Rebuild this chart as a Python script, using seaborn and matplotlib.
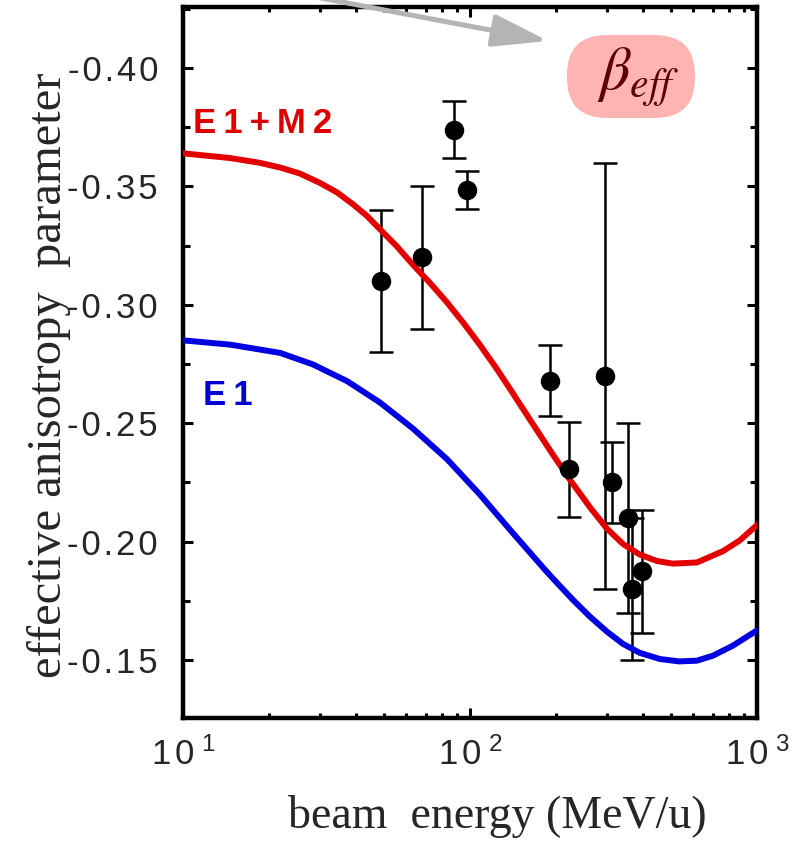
import numpy as np
import pandas as pd
import matplotlib
matplotlib.use("Agg")
import matplotlib.pyplot as plt
import seaborn as sns
from matplotlib import font_manager
from matplotlib.patches import FancyBboxPatch, FancyArrowPatch
from matplotlib.ticker import MultipleLocator, LogLocator, NullFormatter

# ---------------- data ----------------
# theory curves (beam energy in MeV/u, effective anisotropy parameter)
e1m2_energy = [10, 14.6, 18.5, 21.8, 25.5, 30.0, 34.4, 39.1, 43.8, 48.5, 55.6, 63.2,
               72.6, 83.2, 95.1, 108.4, 123.9, 141.3, 161.8, 175, 196.8, 222.8, 261.8,
               299.9, 341.2, 390.8, 448.7, 509.3, 618, 762, 871, 1000]
e1m2_beta = [-0.364, -0.362, -0.360, -0.358, -0.3555, -0.3515, -0.3475, -0.3425,
             -0.3375, -0.332, -0.3247, -0.317, -0.3092, -0.301, -0.2922, -0.283,
             -0.273, -0.2625, -0.2515, -0.2452, -0.2358, -0.2262, -0.2145, -0.2055,
             -0.199, -0.1945, -0.1918, -0.1907, -0.1912, -0.196, -0.2005, -0.207]

e1_energy = [10, 14.6, 21.8, 28.4, 37.4, 48.5, 63.2, 83.2, 108.4, 141.3, 182.8, 200.9,
             228, 261.8, 299.9, 341.2, 390.8, 459.2, 535.8, 616.6, 701.5, 822.4, 1000]
e1_beta = [-0.285, -0.2832, -0.2797, -0.2748, -0.2677, -0.2588, -0.2478, -0.2348,
           -0.2198, -0.2035, -0.188, -0.1826, -0.1755, -0.1683, -0.162, -0.1568,
           -0.153, -0.1504, -0.1494, -0.1497, -0.1518, -0.156, -0.1625]

# measurements
meas_energy = [49, 68, 88, 98, 190, 221, 295, 313, 356, 368, 396]
meas_beta = [-0.310, -0.320, -0.374, -0.3485, -0.268, -0.2305, -0.270, -0.225,
             -0.210, -0.180, -0.1875]
meas_err = [0.030, 0.030, 0.012, 0.008, 0.015, 0.020, 0.090, 0.017, 0.040, 0.030,
            0.026]

y_ticks = [-0.40, -0.35, -0.30, -0.25, -0.20, -0.15]
x_ticks = [10, 100, 1000]
x_exponents = ["1", "2", "3"]

# ---------------- style ----------------
sns.set_theme(style="ticks")
names = {f.name for f in font_manager.fontManager.ttflist}
narrow = "Liberation Sans Narrow" in names
sans_family = (["Liberation Sans Narrow", "Liberation Sans", "DejaVu Sans"] if narrow
               else ["Liberation Sans", "DejaVu Sans"])
plt.rcParams["font.family"] = sans_family
plt.rcParams["mathtext.fontset"] = "stix"

sep = " " if narrow else "\u200a"
lsep = " " if narrow else "\u2009"

RED = "#e30000"
BLUE = "#0000e0"

fig = plt.figure(figsize=(7.99, 8.42), dpi=100)
ax = fig.add_axes([183 / 799, 1 - 718 / 842, 574 / 799, 711 / 842])
ax.set_xscale("log")

df_e1m2 = pd.DataFrame({"energy": e1m2_energy, "beta": e1m2_beta})
df_e1 = pd.DataFrame({"energy": e1_energy, "beta": e1_beta})
df_meas = pd.DataFrame({"energy": meas_energy, "beta": meas_beta, "err": meas_err})

ax.errorbar(df_meas["energy"], df_meas["beta"], yerr=df_meas["err"], fmt="none",
            ecolor="black", elinewidth=1.8, capsize=8.3, capthick=1.8, zorder=2)
sns.lineplot(data=df_e1m2, x="energy", y="beta", color=RED, lw=4.3, ax=ax,
             estimator=None, sort=False, legend=False, zorder=3)
sns.lineplot(data=df_e1, x="energy", y="beta", color=BLUE, lw=4.3, ax=ax,
             estimator=None, sort=False, legend=False, zorder=3)
for ln in ax.get_lines():
    ln.set_solid_joinstyle("round")
sns.scatterplot(data=df_meas, x="energy", y="beta", color="black", edgecolor="black",
                s=13 ** 2, ax=ax, zorder=4, legend=False)

ax.set_xlim(10, 1000)
ax.set_ylim(-0.1255, -0.4258)

# spines
for s in ax.spines.values():
    s.set_linewidth(3.2)
    s.set_color("black")
    s.set_visible(True)

# y ticks
ylabels = [("-" + sep + "0" + sep + "." + sep + f"{abs(v):.2f}"[2] + sep + f"{abs(v):.2f}"[3])
           for v in y_ticks]
ax.set_yticks(y_ticks, labels=ylabels, fontsize=25)
ax.yaxis.set_minor_locator(MultipleLocator(0.025))

# x ticks
xlabels = [r"$\mathregular{1\," + "0\\;{}^{" + e + r"}}$" for e in x_exponents]
ax.set_xticks(x_ticks, labels=xlabels, fontsize=25)
ax.xaxis.set_minor_locator(LogLocator(base=10, subs=np.arange(2, 10)))
ax.xaxis.set_minor_formatter(NullFormatter())

ax.tick_params(axis="both", which="both", direction="in", top=True, right=True,
               color="black", width=2.2)
ax.tick_params(axis="y", which="major", length=7.5, pad=18)
ax.tick_params(axis="y", which="minor", length=5)
ax.tick_params(axis="x", which="major", length=7.5, pad=14)
ax.tick_params(axis="x", which="minor", length=3.5)

# axis labels
ax.set_xlabel("beam  energy (MeV/u)", fontfamily="Liberation Serif", fontsize=33,
              va="baseline", ha="center")
ax.xaxis.set_label_coords(0.548, -0.1545)
ax.set_ylabel("effective anisotropy  parameter", fontfamily="Liberation Serif",
              fontsize=35, va="center", ha="center")
ax.yaxis.set_label_coords(-0.2334, 0.482)

# curve labels
lab_family = sans_family
ax.text(0.0174, 0.8228, "E" + lsep + "1" + lsep + "+" + lsep + "M" + lsep + "2",
        transform=ax.transAxes, color="#dd0000", fontweight="bold",
        fontsize=25, ha="left", va="baseline", fontfamily=lab_family)
ax.text(0.0348, 0.4402, "E" + lsep + "1", transform=ax.transAxes, color="#0000d0",
        fontweight="bold", fontsize=25, ha="left", va="baseline", fontfamily=lab_family)

# beta_eff badge
box = FancyBboxPatch((5.67, 8.42 - 1.18), 1.28, 0.83,
                     boxstyle="round,pad=0,rounding_size=0.40",
                     transform=fig.dpi_scale_trans, fc="#ffb4b4", ec="none", zorder=5)
fig.add_artist(box)
fig.text(6.38, 8.42 - 0.78, r"$\beta_{eff}$", transform=fig.dpi_scale_trans,
         ha="center", va="center", fontsize=43, color="#5c0000", zorder=6)

# grey arrow
arrow = FancyArrowPatch(posA=(3.05, 8.47), posB=(5.48, 8.42 - 0.41),
                        transform=fig.dpi_scale_trans,
                        arrowstyle="-|>,head_length=34,head_width=10",
                        mutation_scale=1, color="#b4b4b4", lw=3.6,
                        shrinkA=0, shrinkB=0, zorder=7)
fig.add_artist(arrow)

fig.savefig("out.png", dpi=100)
